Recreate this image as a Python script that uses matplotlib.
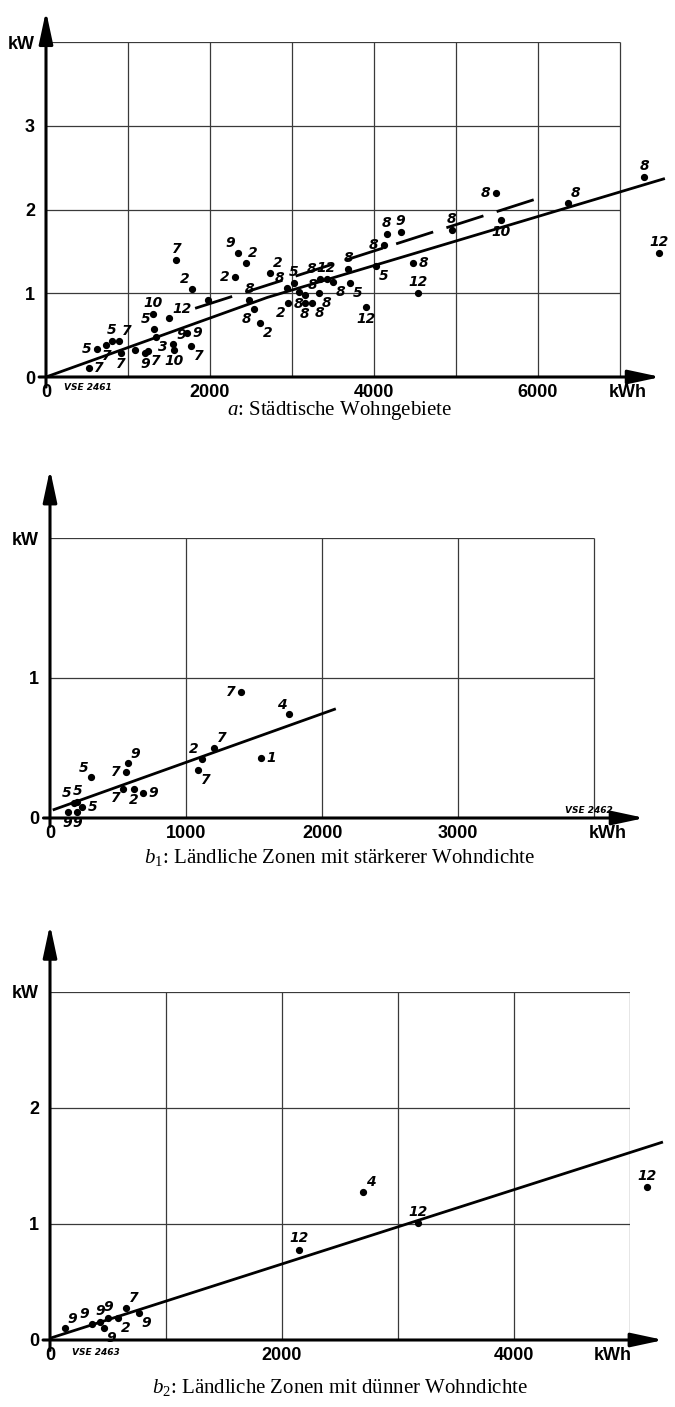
import matplotlib
matplotlib.use("Agg")
import matplotlib.pyplot as plt
import numpy as np

plt.rcParams['mathtext.fontset'] = 'custom'
plt.rcParams['mathtext.rm'] = 'Liberation Serif'
plt.rcParams['mathtext.it'] = 'Liberation Serif:italic'

# ---------------- data ----------------
# Panel a: Städtische Wohngebiete
a_kwh = [522, 618, 735, 800, 890, 912, 1085, 1205, 1250, 1301, 1506, 1313, 1337, 1555, 1566,
         1723, 1771, 1590, 1783, 1976, 2337, 2434, 2301, 2482, 2542, 2614, 2735, 2940, 3025,
         2952, 3085, 3157, 3241, 3337, 3157, 3325, 3422, 3506, 3687, 3711, 3904, 4121, 4025,
         4157, 4326, 4482, 4542, 4952, 5494, 5554, 6373, 7300, 7482]
a_kw = [0.11, 0.33, 0.38, 0.43, 0.43, 0.29, 0.32, 0.29, 0.31, 0.75, 0.70, 0.57, 0.48, 0.39, 0.32,
        0.52, 0.37, 1.40, 1.05, 0.92, 1.48, 1.36, 1.19, 0.92, 0.81, 0.64, 1.24, 1.06, 1.12,
        0.88, 1.01, 0.88, 0.88, 1.17, 0.98, 1.00, 1.17, 1.13, 1.29, 1.12, 0.83, 1.58, 1.32,
        1.71, 1.73, 1.36, 1.00, 1.75, 2.20, 1.87, 2.08, 2.39, 1.48]
a_lab = ['7', '5', '7', '5', '7', '7', '', '9', '7', '10', '12', '5', '3', '9', '10',
         '9', '7', '7', '2', '', '9', '2', '2', '8', '8', '2', '2', '8', '5',
         '2', '8', '8', '8', '8', '8', '8', '12', '8', '8', '5', '12', '8', '5',
         '8', '9', '8', '12', '8', '8', '10', '8', '8', '12']
a_pos = ['r', 'l', 'b', 'a', 'ar', 'b', '', 'b', 'br', 'a', 'ar', 'al', 'br', 'ar', 'b',
         'r', 'br', 'a', 'al', '', 'al', 'ar', 'l', 'a', 'bl', 'br', 'ar', 'al', 'a',
         'bl', 'b', 'b', 'br', 'al', 'ar', 'br', 'a', 'br', 'a', 'br', 'b', 'l', 'br',
         'a', 'a', 'r', 'a', 'a', 'l', 'b', 'ar', 'a', 'a']
a_line_kwh = [0, 2700, 7550]
a_line_kw = [0.0, 0.95, 2.37]
a_dash_kwh = [1819, 6072]
a_dash_kw = [0.82, 2.155]

# Panel b1: Ländliche Zonen mit stärkerer Wohndichte
b1_kwh = [1407, 1757, 1207, 1114, 1550, 1086, 300, 571, 560, 536, 614, 686, 179, 200, 236, 129, 200]
b1_kw = [0.90, 0.74, 0.50, 0.42, 0.43, 0.34, 0.29, 0.39, 0.33, 0.21, 0.21, 0.18,
         0.107, 0.114, 0.079, 0.043, 0.043]
b1_lab = ['7', '4', '7', '2', '1', '7', '5', '9', '7', '7', '2', '9', '5', '5', '5', '9', '9']
b1_pos = ['l', 'al', 'ar', 'al', 'r', 'br', 'al', 'ar', 'l', 'bl', 'b', 'r', 'al', 'a', 'r', 'b', 'b']
b1_line_kwh = [20, 2100]
b1_line_kw = [0.057, 0.78]

# Panel b2: Ländliche Zonen mit dünner Wohndichte
b2_kwh = [129, 362, 431, 500, 466, 586, 655, 767, 2147, 2698, 3172, 5147]
b2_kw = [0.10, 0.14, 0.155, 0.19, 0.10, 0.19, 0.28, 0.23, 0.78, 1.28, 1.01, 1.32]
b2_lab = ['9', '9', '9', '9', '9', '2', '7', '9', '12', '4', '12', '12']
b2_pos = ['ar', 'al', 'a', 'a', 'br', 'br', 'ar', 'br', 'a', 'ar', 'a', 'a']
b2_line_kwh = [0, 5284]
b2_line_kw = [0.015, 1.707]

W, H = 675, 1407
fig = plt.figure(figsize=(W / 100, H / 100), dpi=100)
fig.patch.set_facecolor('white')

TICKFONT = dict(family='Liberation Sans', weight='bold', size=13)
PTFONT = dict(family='DejaVu Sans', style='italic', weight='bold', size=10)

OFFS = {
    'l': ((-4, 0), 'right', 'center'),
    'r': ((4, 0), 'left', 'center'),
    'a': ((0, 3), 'center', 'bottom'),
    'b': ((0, -3), 'center', 'top'),
    'al': ((-2, 2), 'right', 'bottom'),
    'ar': ((2, 2), 'left', 'bottom'),
    'bl': ((-2, -2), 'right', 'top'),
    'br': ((2, -2), 'left', 'top'),
}


def panel(left, right, top, bottom, xmax, ymax, xstep, ystep,
          xlabels, ylabels, arrow_x, arrow_y, xs, ys, labs, poss,
          lines, dashed, vse, vse_xy, caption, cap_y):
    ax = fig.add_axes([left / W, 1 - bottom / H, (right - left) / W, (bottom - top) / H])
    ax.set_xlim(0, xmax)
    ax.set_ylim(0, ymax)
    for s in ax.spines.values():
        s.set_visible(False)
    # grid
    gx = np.arange(xstep, xmax + 1, xstep)
    gy = np.arange(ystep, ymax + 0.001, ystep)
    ax.vlines(gx, 0, ymax, color='#3a3a3a', lw=0.9, zorder=1)
    ax.hlines(gy, 0, xmax, color='#3a3a3a', lw=0.9, zorder=1)
    # axes with arrows
    ax.annotate('', xy=(0, arrow_y), xytext=(0, -0.03 * ymax),
                arrowprops=dict(arrowstyle='-|>,head_length=1.4,head_width=0.3',
                                lw=2.2, color='black', mutation_scale=14, shrinkA=0, shrinkB=0),
                annotation_clip=False, zorder=3)
    ax.annotate('', xy=(arrow_x, 0), xytext=(-0.012 * xmax, 0),
                arrowprops=dict(arrowstyle='-|>,head_length=1.4,head_width=0.3',
                                lw=2.2, color='black', mutation_scale=14, shrinkA=0, shrinkB=0),
                annotation_clip=False, zorder=3)
    # tick labels
    ax.set_xticks([v for v, _ in xlabels])
    ax.set_xticklabels([t for _, t in xlabels], **TICKFONT)
    ax.set_yticks([v for v, _ in ylabels])
    ax.set_yticklabels([t for _, t in ylabels], **TICKFONT)
    ax.tick_params(length=0, pad=8)
    ax.tick_params(axis='x', pad=5)
    # regression lines
    for lx, ly in lines:
        ax.plot(lx, ly, color='black', lw=2.0, clip_on=False, zorder=4, solid_capstyle='butt')
    for lx, ly in dashed:
        ax.plot(lx, ly, color='black', lw=2.0, clip_on=False, zorder=4,
                dashes=(14, 5), dash_capstyle='butt')
    # points
    ax.plot(xs, ys, 'o', color='black', ms=4.2, clip_on=False, zorder=5)
    for x, y, t, p in zip(xs, ys, labs, poss):
        if not t:
            continue
        off, ha, va = OFFS[p]
        ax.annotate(t, (x, y), xytext=off, textcoords='offset points',
                    ha=ha, va=va, annotation_clip=False, zorder=6, **PTFONT)
    ax.text(vse_xy[0], vse_xy[1], vse, family='DejaVu Sans', style='italic',
            weight='bold', size=6.5, ha='left', va='center', clip_on=False)
    fig.text(340 / W, 1 - cap_y / H, caption, ha='center', va='baseline',
             family='Liberation Serif', size=15)
    return ax


panel(46, 628, 42, 377, 7000, 4, 1000, 1,
      [(0, '0'), (2000, '2000'), (4000, '4000'), (6000, '6000'), (7100, 'kWh')],
      [(0, '0'), (1, '1'), (2, '2'), (3, '3'), (4, 'kW')],
      7500, 4.37, a_kwh, a_kw, a_lab, a_pos,
      [(a_line_kwh, a_line_kw)], [(a_dash_kwh, a_dash_kw)],
      'VSE 2461', (217, -0.13), '$a$: Städtische Wohngebiete', 415)

panel(50, 608, 538, 818, 4000, 2, 1000, 1,
      [(0, '0'), (1000, '1000'), (2000, '2000'), (3000, '3000'), (4100, 'kWh')],
      [(0, '0'), (1, '1'), (2, 'kW')],
      4370, 2.49, b1_kwh, b1_kw, b1_lab, b1_pos,
      [(b1_line_kwh, b1_line_kw)], [],
      'VSE 2462', (3786, 0.057), '$b_1$: Ländliche Zonen mit stärkerer Wohndichte', 863)

panel(50, 630, 992, 1340, 5000, 3, 1000, 1,
      [(0, '0'), (2000, '2000'), (4000, '4000'), (4850, 'kWh')],
      [(0, '0'), (1, '1'), (2, '2'), (3, 'kW')],
      5290, 3.58, b2_kwh, b2_kw, b2_lab, b2_pos,
      [(b2_line_kwh, b2_line_kw)], [],
      'VSE 2463', (190, -0.11), '$b_2$: Ländliche Zonen mit dünner Wohndichte', 1393)

fig.savefig('out.png', dpi=100, facecolor='white')
